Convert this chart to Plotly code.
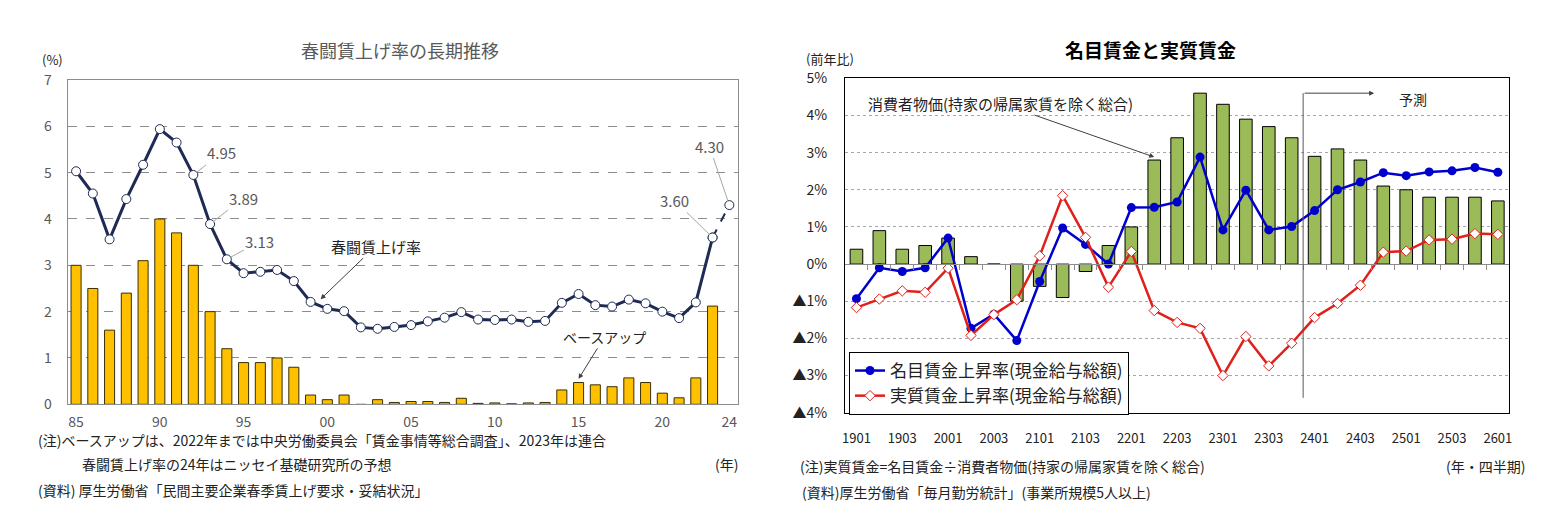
import plotly.graph_objects as go

# ---- left chart data (春闘賃上げ率の長期推移) ----
years = list(range(1985, 2025))
shunto_rate = [5.03, 4.55, 3.56, 4.43, 5.17, 5.94, 5.65, 4.95, 3.89, 3.13,
               2.83, 2.86, 2.90, 2.66, 2.21, 2.06, 2.01, 1.66, 1.63, 1.67,
               1.71, 1.79, 1.87, 1.99, 1.83, 1.82, 1.83, 1.78, 1.80, 2.19,
               2.38, 2.14, 2.11, 2.26, 2.18, 2.00, 1.86, 2.20, 3.60, 4.30]
base_up_years = list(range(1985, 2024))
base_up = [3.0, 2.5, 1.6, 2.4, 3.1, 4.0, 3.7, 3.0, 2.0, 1.2,
           0.9, 0.9, 1.0, 0.8, 0.2, 0.1, 0.2, -0.01, 0.1, 0.04,
           0.06, 0.06, 0.04, 0.13, 0.02, 0.03, 0.01, 0.03, 0.04, 0.31,
           0.47, 0.42, 0.38, 0.57, 0.47, 0.24, 0.14, 0.57, 2.12]
left_tickvals = [1985, 1990, 1995, 2000, 2005, 2010, 2015, 2020, 2024]
left_ticktext = ['85', '90', '95', '00', '05', '10', '15', '20', '24']

# ---- right chart data (名目賃金と実質賃金) ----
quarters = ['1901', '1902', '1903', '1904', '2001', '2002', '2003', '2004',
            '2101', '2102', '2103', '2104', '2201', '2202', '2203', '2204',
            '2301', '2302', '2303', '2304', '2401', '2402', '2403', '2404',
            '2501', '2502', '2503', '2504', '2601']
cpi = [0.4, 0.9, 0.4, 0.5, 0.7, 0.2, 0.0, -1.0, -0.6, -0.9, -0.2, 0.5,
       1.0, 2.8, 3.4, 4.6, 4.3, 3.9, 3.7, 3.4, 2.9, 3.1, 2.8, 2.1,
       2.0, 1.8, 1.8, 1.8, 1.7]
nominal = [-0.93, -0.10, -0.20, -0.10, 0.70, -1.73, -1.35, -2.06, -0.47, 0.97,
           0.53, 0.00, 1.52, 1.53, 1.67, 2.88, 0.92, 1.99, 0.92, 1.01,
           1.44, 2.00, 2.21, 2.46, 2.38, 2.48, 2.51, 2.60, 2.47]
real = [-1.17, -0.94, -0.72, -0.76, -0.11, -1.92, -1.36, -0.96, 0.22, 1.84,
        0.72, -0.62, 0.34, -1.25, -1.57, -1.73, -3.00, -1.95, -2.74, -2.13,
        -1.44, -1.06, -0.57, 0.32, 0.35, 0.65, 0.67, 0.82, 0.80]
right_tickvals = quarters[::2]
right_yvals = [5, 4, 3, 2, 1, 0, -1, -2, -3, -4]
right_ytext = ['5%', '4%', '3%', '2%', '1%', '0%', '▲1%', '▲2%', '▲3%', '▲4%']

# the page body adds an 8px margin, so the figure is made smaller by that much
OFF = 8
W, H = 1545 - 2 * OFF, 525 - 2 * OFF
FONT = 'Noto Sans CJK JP'
GRAY = '#595959'
NAVY = '#1F2A55'


def fx(px):
    return (px - OFF) / W


def fy(py):
    return 1 - (py - OFF) / H


# plot area domains (paper fractions, from page pixel positions)
LX = [fx(67.7), fx(737.7)]
LY = [fy(404.3), fy(80)]
RX = [fx(845), fx(1509.3)]
RY = [fy(412.7), fy(78.3)]
R_MIN, R_MAX = -4, 5
FORECAST_X = 19.5

fig = go.Figure()

# left: base-up bars
fig.add_trace(go.Bar(
    x=base_up_years, y=base_up, width=0.6,
    marker=dict(color='#FFC000', line=dict(color='#3A3000', width=1)),
    xaxis='x', yaxis='y', showlegend=False, hoverinfo='skip'
))
# left: shunto rate line (solid up to 2023, dashed to 2024 forecast)
fig.add_trace(go.Scatter(
    x=years[-2:], y=shunto_rate[-2:], mode='lines+markers',
    line=dict(color=NAVY, width=2, dash='dash'),
    marker=dict(symbol='circle', size=9, color='white', line=dict(color=NAVY, width=1)),
    xaxis='x', yaxis='y', showlegend=False
))
fig.add_trace(go.Scatter(
    x=years[:-1], y=shunto_rate[:-1], mode='lines+markers',
    line=dict(color=NAVY, width=3),
    marker=dict(symbol='circle', size=9, color='white', line=dict(color=NAVY, width=1)),
    xaxis='x', yaxis='y', showlegend=False
))

# right: CPI bars
fig.add_trace(go.Bar(
    x=quarters, y=cpi, width=0.55,
    marker=dict(color='#9BBB59', line=dict(color='#000000', width=1)),
    xaxis='x2', yaxis='y2', showlegend=False, hoverinfo='skip'
))
fig.add_trace(go.Scatter(
    x=quarters, y=nominal, mode='lines+markers', name='名目賃金上昇率(現金給与総額)',
    line=dict(color='#0000CC', width=2.5),
    marker=dict(symbol='circle', size=9, color='#0000CC'),
    xaxis='x2', yaxis='y2'
))
fig.add_trace(go.Scatter(
    x=quarters, y=real, mode='lines+markers', name='実質賃金上昇率(現金給与総額)',
    line=dict(color='#E0201B', width=2.5),
    marker=dict(symbol='diamond', size=8, color='white', line=dict(color='#E0201B', width=1)),
    xaxis='x2', yaxis='y2'
))
# dummy trace so the zero-line tick axis is drawn
fig.add_trace(go.Scatter(
    x=[0], y=[0], mode='markers', marker=dict(opacity=0),
    xaxis='x3', yaxis='y2', showlegend=False, hoverinfo='skip'
))

zero_pos = RY[0] + (0 - R_MIN) / (R_MAX - R_MIN) * (RY[1] - RY[0])

annotations = []
# value labels with leader lines on the left chart
for yr, ax, ay in [(1992, 28, -22), (1993, 33, -26), (1994, 33, -18),
                   (2023, -38, -37), (2024, -20, -59)]:
    v = shunto_rate[years.index(yr)]
    annotations.append(dict(
        x=yr, y=v, xref='x', yref='y', text=f'{v:.2f}',
        showarrow=True, arrowhead=0, arrowwidth=1, arrowcolor='#A6A6A6',
        ax=ax, ay=ay, standoff=4, font=dict(family=FONT, size=15, color=GRAY)
    ))
annotations.append(dict(
    x=1999.6, y=2.27, xref='x', yref='y', text='春闘賃上げ率',
    showarrow=True, arrowhead=2, arrowsize=1, arrowwidth=1, arrowcolor='#404040',
    ax=55, ay=-53, font=dict(family=FONT, size=15, color='#222222')
))
annotations.append(dict(
    x=2015, y=0.55, xref='x', yref='y', text='ベースアップ',
    showarrow=True, arrowhead=2, arrowsize=1, arrowwidth=1, arrowcolor='#404040',
    ax=26, ay=-42, font=dict(family=FONT, size=14, color='#222222')
))
# right chart annotations
annotations.append(dict(
    x=13, y=2.88, xref='x2', yref='y2', text='消費者物価(持家の帰属家賃を除く総合)',
    showarrow=True, arrowhead=2, arrowsize=1, arrowwidth=1, arrowcolor='#404040',
    ax=-154, ay=-54, font=dict(family=FONT, size=15, color='#222222')
))
annotations.append(dict(
    x=22.6, y=4.6, xref='x2', yref='y2', axref='x2', ayref='y2',
    ax=FORECAST_X, ay=4.6, text='', showarrow=True, arrowhead=2, arrowsize=1,
    arrowwidth=1, arrowcolor='#404040'
))
annotations.append(dict(
    x=24.3, y=4.45, xref='x2', yref='y2', text='予測', showarrow=False,
    font=dict(family=FONT, size=14, color='#222222')
))
# titles and notes (page pixel positions)
text_items = [
    (400, 50, '春闘賃上げ率の長期推移', 18, GRAY, 'center'),
    (52, 60, '(%)', 13, '#222222', 'center'),
    (1150, 50, '<b>名目賃金と実質賃金</b>', 19, '#000000', 'center'),
    (830, 58, '(前年比)', 13, '#222222', 'center'),
    (36, 440, '(注)ベースアップは、2022年までは中央労働委員会「賃金事情等総合調査」、2023年は連合', 14, '#222222', 'left'),
    (80, 464, '春闘賃上げ率の24年はニッセイ基礎研究所の予想', 14, '#222222', 'left'),
    (740, 464, '(年)', 14, '#222222', 'right'),
    (36, 490, '(資料) 厚生労働省「民間主要企業春季賃上げ要求・妥結状況」', 14, '#222222', 'left'),
    (798, 466, '(注)実質賃金=名目賃金÷消費者物価(持家の帰属家賃を除く総合)', 14, '#222222', 'left'),
    (1527, 466, '(年・四半期)', 14, '#222222', 'right'),
    (800, 492, '(資料)厚生労働省「毎月勤労統計」(事業所規模5人以上)', 14, '#222222', 'left'),
]
for px, py, txt, size, col, align in text_items:
    annotations.append(dict(
        x=fx(px), y=fy(py), xref='paper', yref='paper', text=txt,
        showarrow=False, xanchor=align, yanchor='middle',
        font=dict(family=FONT, size=size, color=col)
    ))

shapes = [
    dict(type='line', xref='x2', yref='y2', x0=FORECAST_X, x1=FORECAST_X,
         y0=-3.6, y1=4.6, line=dict(color='#595959', width=1)),
]

fig.update_layout(
    width=W, height=H,
    margin=dict(l=0, r=0, t=0, b=0, pad=0, autoexpand=False),
    paper_bgcolor='white', plot_bgcolor='white',
    font=dict(family=FONT, size=13, color='#222222'),
    bargap=0.4,
    xaxis=dict(
        domain=LX, anchor='y', range=[1984.5, 2024.5], automargin=False,
        tickvals=left_tickvals, ticktext=left_ticktext,
        showline=True, linecolor='#8C8C8C', mirror=True, showgrid=False,
        ticks='', ticklabelstandoff=5, zeroline=False,
        tickfont=dict(family=FONT, size=14, color=GRAY)
    ),
    yaxis=dict(
        domain=LY, anchor='x', range=[0, 7], dtick=1, automargin=False,
        showline=True, linecolor='#8C8C8C', mirror=True,
        showgrid=True, gridcolor='#8C8C8C', griddash='dash', gridwidth=1,
        zeroline=False, ticks='', ticklabelstandoff=12,
        tickfont=dict(family=FONT, size=14, color=GRAY)
    ),
    xaxis2=dict(
        domain=RX, anchor='y2', type='category', automargin=False,
        range=[-0.5, len(quarters) - 0.5],
        tickvals=right_tickvals, ticktext=right_tickvals,
        showline=True, linecolor='#000000', linewidth=1.2, mirror=True,
        showgrid=False, ticks='', ticklabelstandoff=14,
        tickfont=dict(family=FONT, size=13, color='#222222')
    ),
    xaxis3=dict(
        overlaying='x2', anchor='free', position=zero_pos, automargin=False,
        range=[-0.5, len(quarters) - 0.5],
        tickvals=[i + 0.5 for i in range(len(quarters) - 1)],
        showticklabels=False, ticks='outside', ticklen=5, tickcolor='#8C8C8C',
        showline=True, linecolor='#8C8C8C', showgrid=False, zeroline=False
    ),
    yaxis2=dict(
        domain=RY, anchor='x2', range=[R_MIN, R_MAX], automargin=False,
        tickvals=right_yvals, ticktext=right_ytext,
        showline=True, linecolor='#000000', linewidth=1.2, mirror=True,
        showgrid=True, gridcolor='#A6A6A6', griddash='dot', gridwidth=1,
        zeroline=False, ticks='', ticklabelstandoff=14,
        tickfont=dict(family=FONT, size=14, color='#222222')
    ),
    legend=dict(
        x=fx(849), y=fy(352), xanchor='left', yanchor='top',
        bgcolor='white', bordercolor='#000000', borderwidth=1,
        font=dict(family=FONT, size=17, color='#222222'),
        itemwidth=30, tracegroupgap=0
    ),
    annotations=annotations,
    shapes=shapes,
)

fig.write_html("out.html")
